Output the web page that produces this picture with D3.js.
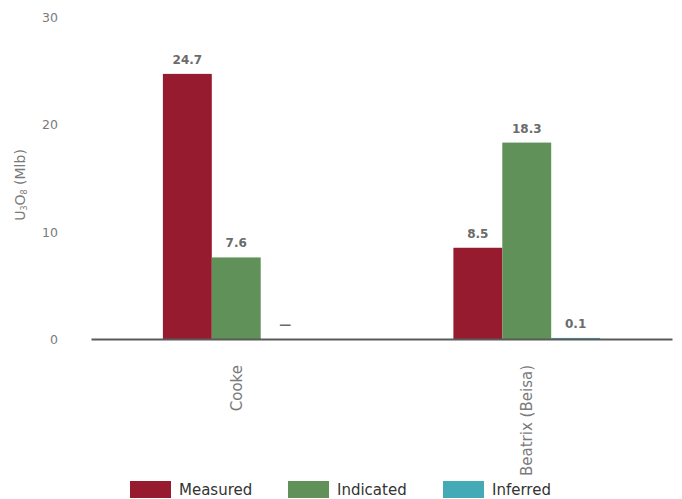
<!DOCTYPE html>
<html>
<head>
<meta charset="utf-8">
<script src="https://cdn.jsdelivr.net/npm/d3@7"></script>
<style>
  html, body { margin: 0; padding: 0; background: #fff; }
  svg { display: block; font-family: "DejaVu Sans", sans-serif; }
</style>
</head>
<body>
<svg id="chart" width="682" height="499"></svg>
<script>
// Uranium resources by deposit, in millions of pounds U3O8
const categories = ["Cooke", "Beatrix (Beisa)"];
const seriesNames = ["Measured", "Indicated", "Inferred"];
const measured = [24.7, 8.5];
const indicated = [7.6, 18.3];
const inferred = [0, 0.1];
const yTicks = [0, 10, 20, 30];
const seriesColors = ["#971b2f", "#5f9158", "#44abb6"];

const values = [measured, indicated, inferred];
const rows = categories.map((c, i) => ({
  category: c,
  bars: seriesNames.map((s, k) => ({ series: s, value: values[k][i], k }))
}));

const svg = d3.select("#chart");
const plotLeft = 91, plotRight = 672, plotTop = 17, plotBottom = 339;
const fontFamily = "DejaVu Sans, sans-serif";

const x0 = d3.scaleBand().domain(categories).range([plotLeft, plotRight]).paddingInner(0).paddingOuter(0);
const x1 = d3.scaleBand().domain(seriesNames).range([0, x0.bandwidth() * 0.505]);
const y = d3.scaleLinear().domain([0, 30]).range([plotBottom, plotTop]);

// Y axis labels only (no line, no ticks)
const yAxis = d3.axisLeft(y).tickValues(yTicks).tickSize(0).tickPadding(0).tickFormat(d3.format("d"));
const gy = svg.append("g").attr("transform", "translate(58,0)").call(yAxis);
gy.select(".domain").remove();
gy.selectAll("text")
  .attr("fill", "#7a7a7a")
  .attr("font-size", 12.5)
  .attr("font-family", fontFamily)
  .attr("dy", "0.35em");

// Y axis title with subscripts
const yt = svg.append("text")
  .attr("transform", "translate(25,185) rotate(-90)")
  .attr("text-anchor", "middle")
  .attr("fill", "#7a7a7a")
  .attr("font-size", 14);
yt.append("tspan").text("U");
yt.append("tspan").text("3").attr("font-size", 8).attr("dy", 2);
yt.append("tspan").text("O").attr("dy", -2);
yt.append("tspan").text("8").attr("font-size", 8).attr("dy", 2);
yt.append("tspan").text(" (Mlb)").attr("dy", -2);

// Bars
const groups = svg.append("g").selectAll("g")
  .data(rows).join("g")
  .attr("transform", d => `translate(${x0(d.category) + (x0.bandwidth() - x1.range()[1]) / 2},0)`);

groups.selectAll("rect")
  .data(d => d.bars).join("rect")
  .attr("x", d => x1(d.series))
  .attr("width", x1.bandwidth())
  .attr("y", d => y(d.value))
  .attr("height", d => y(0) - y(d.value))
  .attr("fill", d => seriesColors[d.k]);

// Value labels
groups.selectAll("text.val")
  .data(d => d.bars).join("text")
  .attr("class", "val")
  .attr("x", d => x1(d.series) + x1.bandwidth() / 2)
  .attr("y", d => y(d.value) - 10)
  .attr("text-anchor", "middle")
  .attr("fill", "#6b6b6b")
  .attr("font-size", 12)
  .attr("font-weight", "bold")
  .text(d => d.value === 0 ? "\u2014" : d3.format(".1f")(d.value));

// Category axis: baseline plus rotated labels
const xAxis = d3.axisBottom(x0).tickSize(0).tickPadding(0);
const gx = svg.append("g").attr("transform", `translate(0,${plotBottom})`).call(xAxis);
gx.select(".domain").attr("stroke", "#5a5a5a").attr("stroke-width", 2);
gx.selectAll("text")
  .attr("transform", "translate(0,26) rotate(-90)")
  .attr("text-anchor", "end")
  .attr("dy", "0.35em")
  .attr("x", 0).attr("y", 0)
  .attr("fill", "#7a7a7a")
  .attr("font-size", 15)
  .attr("font-family", fontFamily);

// Legend
const legendX = [130, 288, 443];
const lg = svg.append("g").selectAll("g")
  .data(seriesNames).join("g")
  .attr("transform", (d, i) => `translate(${legendX[i]},481)`);
lg.append("rect").attr("width", 41).attr("height", 17).attr("fill", (d, i) => seriesColors[i]);
lg.append("text")
  .attr("x", 49).attr("y", 9)
  .attr("dy", "0.35em")
  .attr("fill", "#333")
  .attr("font-size", 15)
  .text(d => d);
</script>
</body>
</html>
